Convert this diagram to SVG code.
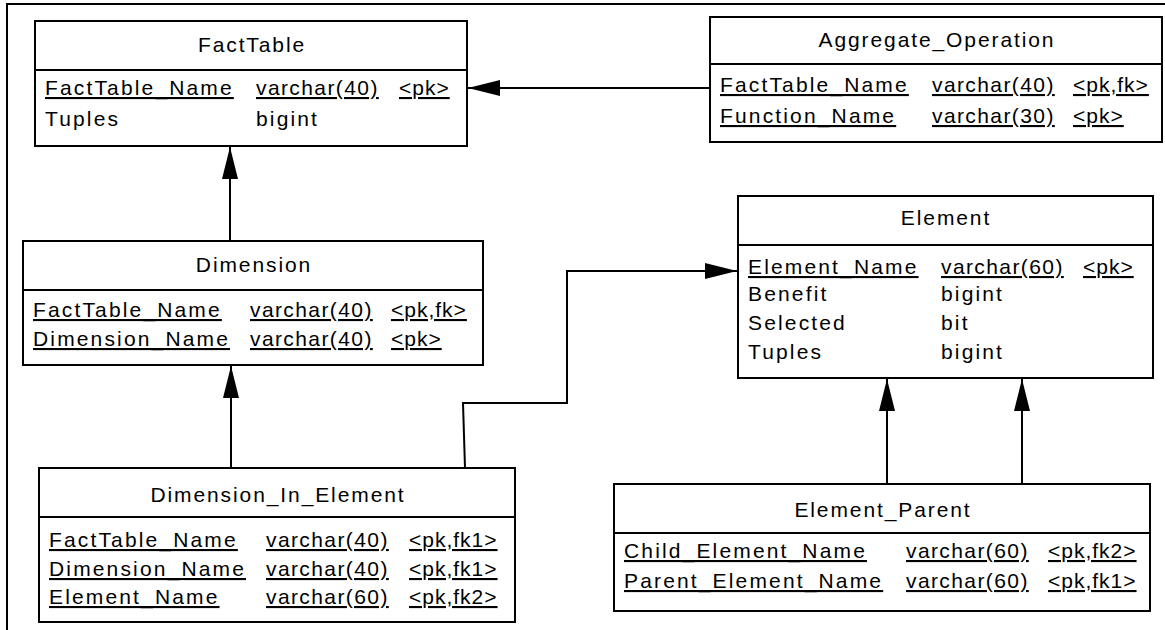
<svg xmlns="http://www.w3.org/2000/svg" width="1165" height="630" viewBox="0 0 1165 630">
<style>
.box{fill:#fff;stroke:#000;stroke-width:2}
.div{stroke:#000;stroke-width:2}
text{font-family:"Liberation Sans",Arial,sans-serif;font-size:21px;fill:#000}
.t{text-anchor:middle;letter-spacing:1.9px}
.n{letter-spacing:2.15px}
.y{letter-spacing:1.4px}
.k{letter-spacing:1px}
.u{text-decoration:underline}
.c{fill:none;stroke:#000;stroke-width:2}
</style>
<defs>
<marker id="ah" markerUnits="userSpaceOnUse" markerWidth="34" markerHeight="18" refX="32" refY="8" orient="auto">
<path d="M0,0 L32,8 L0,16 Z" fill="#000"/>
</marker>
</defs>
<path d="M7,630 L7,4 L1165,4" fill="none" stroke="#000" stroke-width="2"/>
<g id="connectors">
<path class="c" d="M710,88 L468,88" marker-end="url(#ah)"/>
<path class="c" d="M230,241 L230,147" marker-end="url(#ah)"/>
<path class="c" d="M231,468 L231,366" marker-end="url(#ah)"/>
<path class="c" d="M465,468 L463,403 L567,403 L567,271 L737,271" marker-end="url(#ah)"/>
<path class="c" d="M887,484 L887,379" marker-end="url(#ah)"/>
<path class="c" d="M1022,484 L1022,379" marker-end="url(#ah)"/>
</g>
<g id="FactTable">
<rect class="box" x="35" y="21" width="432" height="125"/>
<line class="div" x1="35" y1="70" x2="467" y2="70"/>
<text class="t" x="252" y="52">FactTable</text>
<text class="n u" x="45" y="95">FactTable_Name</text>
<text class="y u" x="256" y="95">varchar(40)</text>
<text class="k u" x="399" y="95">&lt;pk&gt;</text>
<text class="n" x="45" y="126">Tuples</text>
<text class="n" x="256" y="126">bigint</text>
</g>
<g id="Aggregate_Operation">
<rect class="box" x="710" y="17" width="452" height="125"/>
<line class="div" x1="710" y1="64" x2="1163" y2="64"/>
<text class="t" x="937" y="47">Aggregate_Operation</text>
<text class="n u" x="720" y="92">FactTable_Name</text>
<text class="y u" x="932" y="92">varchar(40)</text>
<text class="k u" x="1073" y="92">&lt;pk,fk&gt;</text>
<text class="n u" x="720" y="123">Function_Name</text>
<text class="y u" x="932" y="123">varchar(30)</text>
<text class="k u" x="1073" y="123">&lt;pk&gt;</text>
</g>
<g id="Dimension">
<rect class="box" x="23" y="241" width="460" height="124"/>
<line class="div" x1="23" y1="290" x2="483" y2="290"/>
<text class="t" x="254" y="272">Dimension</text>
<text class="n u" x="33" y="317">FactTable_Name</text>
<text class="y u" x="250" y="317">varchar(40)</text>
<text class="k u" x="391" y="317">&lt;pk,fk&gt;</text>
<text class="n u" x="33" y="346">Dimension_Name</text>
<text class="y u" x="250" y="346">varchar(40)</text>
<text class="k u" x="391" y="346">&lt;pk&gt;</text>
</g>
<g id="Element">
<rect class="box" x="738" y="196" width="415" height="182"/>
<line class="div" x1="738" y1="245" x2="1153" y2="245"/>
<text class="t" x="946" y="225">Element</text>
<text class="n u" x="748" y="274">Element_Name</text>
<text class="y u" x="941" y="274">varchar(60)</text>
<text class="k u" x="1083" y="274">&lt;pk&gt;</text>
<text class="n" x="748" y="301">Benefit</text>
<text class="n" x="941" y="301">bigint</text>
<text class="n" x="748" y="330">Selected</text>
<text class="n" x="941" y="330">bit</text>
<text class="n" x="748" y="359">Tuples</text>
<text class="n" x="941" y="359">bigint</text>
</g>
<g id="Dimension_In_Element">
<rect class="box" x="39" y="468" width="476" height="154"/>
<line class="div" x1="39" y1="517" x2="515" y2="517"/>
<text class="t" x="278" y="502">Dimension_In_Element</text>
<text class="n u" x="49" y="547">FactTable_Name</text>
<text class="y u" x="266" y="547">varchar(40)</text>
<text class="k u" x="409" y="547">&lt;pk,fk1&gt;</text>
<text class="n u" x="49" y="576">Dimension_Name</text>
<text class="y u" x="266" y="576">varchar(40)</text>
<text class="k u" x="409" y="576">&lt;pk,fk1&gt;</text>
<text class="n u" x="49" y="604">Element_Name</text>
<text class="y u" x="266" y="604">varchar(60)</text>
<text class="k u" x="409" y="604">&lt;pk,fk2&gt;</text>
</g>
<g id="Element_Parent">
<rect class="box" x="614" y="484" width="536" height="127"/>
<line class="div" x1="614" y1="533" x2="1150" y2="533"/>
<text class="t" x="883" y="517">Element_Parent</text>
<text class="n u" x="624" y="558">Child_Element_Name</text>
<text class="y u" x="906" y="558">varchar(60)</text>
<text class="k u" x="1048" y="558">&lt;pk,fk2&gt;</text>
<text class="n u" x="624" y="588">Parent_Element_Name</text>
<text class="y u" x="906" y="588">varchar(60)</text>
<text class="k u" x="1048" y="588">&lt;pk,fk1&gt;</text>
</g>
</svg>
